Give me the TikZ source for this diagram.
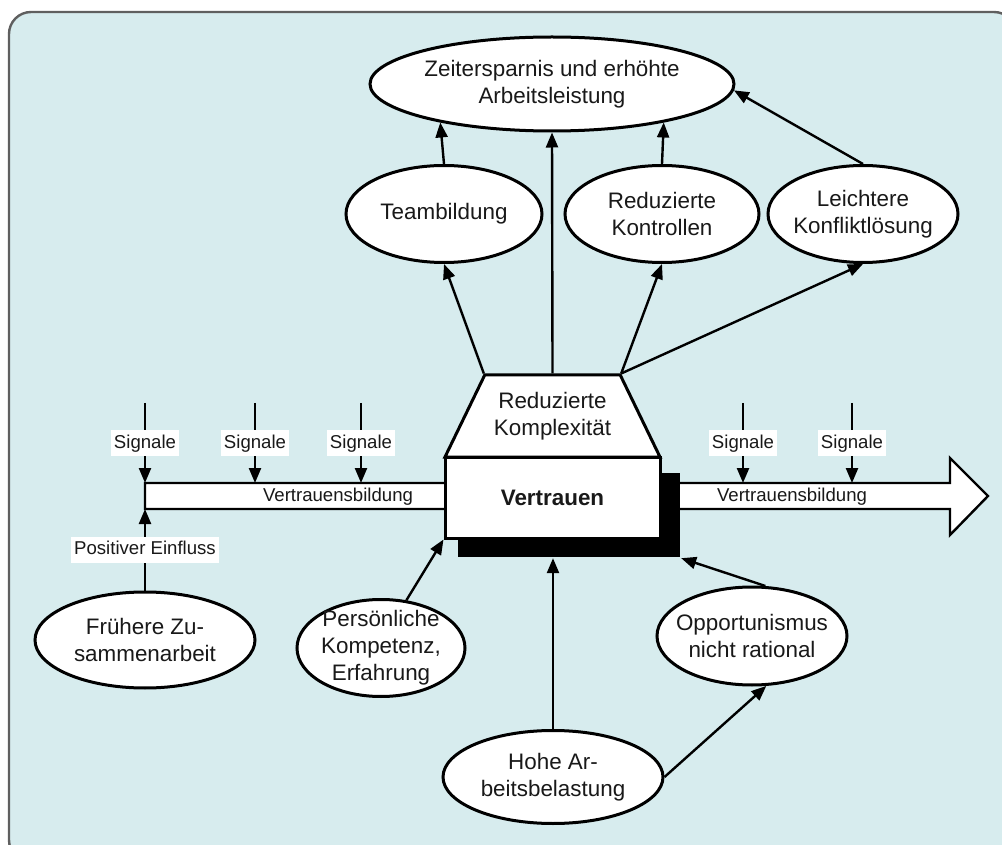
\documentclass[tikz,border=0pt]{standalone}
\usepackage{fontspec}
\setmainfont{Liberation Sans}
\usepackage{tikz}
\usetikzlibrary{arrows.meta, shapes.geometric, calc, positioning}
\definecolor{hinterblau}{RGB}{215,236,238}
\definecolor{rahmengrau}{RGB}{95,95,95}
\newcommand{\grosstext}{\fontsize{11.2}{13.5}\selectfont}
\newcommand{\kleintext}{\fontsize{9.3}{11}\selectfont}

\begin{document}
\begin{tikzpicture}[
	x=0.5pt, y=-0.5pt,
	line width=1.2pt, text=black!90,
	blase/.style={ellipse, draw, line width=1.5pt, fill=white, inner xsep=-12pt, inner ysep=-4pt, align=center, font=\grosstext}, % Ellipsen
	schild/.style={fill=white, inner xsep=1.5pt, inner ysep=0pt, text height=9pt, text depth=4pt, font=\kleintext},
	>={Triangle[length=7.5pt,width=6pt]} % gefuellte Spitzen
	]
	\useasboundingbox (0,0) rectangle (1002,845);

	% Hintergrund
	\draw[rahmengrau, fill=hinterblau, rounded corners=11pt] (9,12) rectangle (1016,862);

	% Der breite Pfeil
	\coordinate (bandoben) at (0,483);
	\coordinate (bandunten) at (0,509);
	\draw[fill=white] (145,483) -- (950,483) -- (950,458) -- (988,496) -- (950,535) -- (950,509) -- (145,509) -- cycle;
	\node[font=\kleintext] (vbild1) at (338,497) {Vertrauensbildung};
	\node[font=\kleintext] (vbild2) at (792,497) {Vertrauensbildung};

	% Der Kasten in der Mitte
	\node[fill=black, inner sep=0pt, minimum width=111pt, minimum height=42pt] (schatten) at (569,515) {};
	\node[draw, fill=white, line width=1.5pt, minimum width=107.5pt, minimum height=40.5pt, font=\grosstext\bfseries] (vertrauen) at (552.5,497.5) {Vertrauen};
	\node[trapezium, draw, fill=white, line width=1.5pt, trapezium stretches body, trapezium angle=57, minimum width=107.5pt, minimum height=41pt, align=center, font=\grosstext] (komplex) at (552.5,416) {Reduzierte\\Komplexität};

	% Die Ellipsen
	\node[blase, minimum width=182pt, minimum height=47pt] (zeit) at (552,84) {Zeitersparnis und erhöhte\\Arbeitsleistung};
	\node[blase, minimum width=98pt, minimum height=48.5pt] (team) at (444,214) {Teambildung};
	\node[blase, minimum width=97pt, minimum height=48.5pt] (kontr) at (662,214) {Reduzierte\\Kontrollen};
	\node[blase, minimum width=95pt, minimum height=48.5pt] (konfl) at (863,214) {Leichtere\\Konfliktlösung};
	\node[blase, minimum width=110pt, minimum height=48pt] (frueher) at (145,640) {Frühere Zu-\\sammenarbeit};
	\node[blase, minimum width=84pt, minimum height=48.5pt, inner ysep=-8pt] (kompetenz) at (381,648) {Persönliche\\Kompetenz,\\Erfahrung};
	\node[blase, minimum width=95pt, minimum height=49pt] (opport) at (752,636) {Opportunismus\\nicht rational};
	\node[blase, minimum width=110pt, minimum height=46.5pt] (belast) at (553,777) {Hohe Ar-\\beitsbelastung};

	% Die Pfeile nach oben
	\draw[->] (komplex.top left corner) to (team.south);
	\draw[->] (komplex.north) to (zeit.south);
	\draw[->] (komplex.top right corner) to (kontr.south);
	\draw[->] (komplex.top right corner) to (konfl.south);
	\draw[->] (team.north) to (zeit.199);
	\draw[->] (kontr.north) to (zeit.341);
	\draw[->] (konfl.north) to (zeit.-2);

	% Die Signale
	\coordinate (sig1) at (145,403);
	\coordinate (sig2) at (255,403);
	\coordinate (sig3) at (361,403);
	\coordinate (sig4) at (743,403);
	\coordinate (sig5) at (852,403);
	\draw[->] (sig1) to node[schild, midway] {Signale} (sig1 |- bandoben);
	\draw[->] (sig2) to node[schild, midway] {Signale} (sig2 |- bandoben);
	\draw[->] (sig3) to node[schild, midway] {Signale} (sig3 |- bandoben);
	\draw[->] (sig4) to node[schild, midway] {Signale} (sig4 |- bandoben);
	\draw[->] (sig5) to node[schild, midway] {Signale} (sig5 |- bandoben);

	% Die Einfluesse von unten
	\draw[->] (frueher.north) to node[schild, midway] {Positiver Einfluss} (frueher.north |- bandunten);
	\draw[->] (kompetenz.62) to (vertrauen.south west);
	\draw[->] (belast.north) to (belast.north |- schatten.south);
	\draw[->] (opport.75) to (schatten.south east);
	\draw[->] (belast.east) to (opport.286);
\end{tikzpicture}
\end{document}
